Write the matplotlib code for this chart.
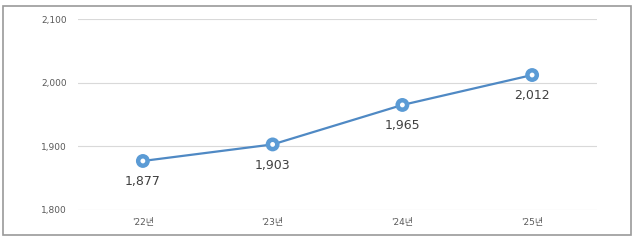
import matplotlib.pyplot as plt
from matplotlib.patches import Rectangle

# digits from DejaVu (wider, closer to the original), Hangul falls back to Noto CJK
plt.rcParams['font.family'] = ['DejaVu Sans', 'Noto Sans CJK KR']

years = ["'22년", "'23년", "'24년", "'25년"]
values = [1877, 1903, 1965, 2012]
yticks = [1800, 1900, 2000, 2100]

fig = plt.figure(figsize=(6.4, 2.41), dpi=100, facecolor='white')
ax = fig.add_axes([78/640, 1 - 210/241, (597 - 78)/640, (210 - 19)/241])

x = list(range(len(years)))
ax.plot(x, values, color='#4f89c4', linewidth=1.6, zorder=3)
ax.scatter(x, values, s=100, facecolor='#5b9bd5', edgecolor='none', zorder=4)
ax.scatter(x, values, s=12, facecolor='white', edgecolor='none', zorder=5)

for xi, v in zip(x, values):
    ax.annotate(f'{v:,}', (xi, v), xytext=(0, -15), textcoords='offset points',
                ha='center', va='center', fontsize=9, color='#404040')

ax.set_xlim(-0.5, len(years) - 0.5)
ax.set_ylim(1800, 2100)
ax.set_yticks(yticks)
ax.set_yticklabels([f'{t:,}' for t in yticks])
ax.set_xticks(x)
ax.set_xticklabels(years)
ax.tick_params(length=0, labelsize=6.5, labelcolor='#595959')
ax.tick_params(axis='y', pad=8)
ax.tick_params(axis='x', pad=6)
ax.grid(axis='y', color='#d9d9d9', linewidth=0.8)
ax.set_axisbelow(True)
for s in ax.spines.values():
    s.set_visible(False)

fig.patches.append(Rectangle((3/640, 1 - 235/241), 628/640, 229/241,
                             transform=fig.transFigure, fill=False,
                             edgecolor='#9a9a9a', linewidth=1.2))

fig.savefig('out.png', dpi=100, facecolor='white')
